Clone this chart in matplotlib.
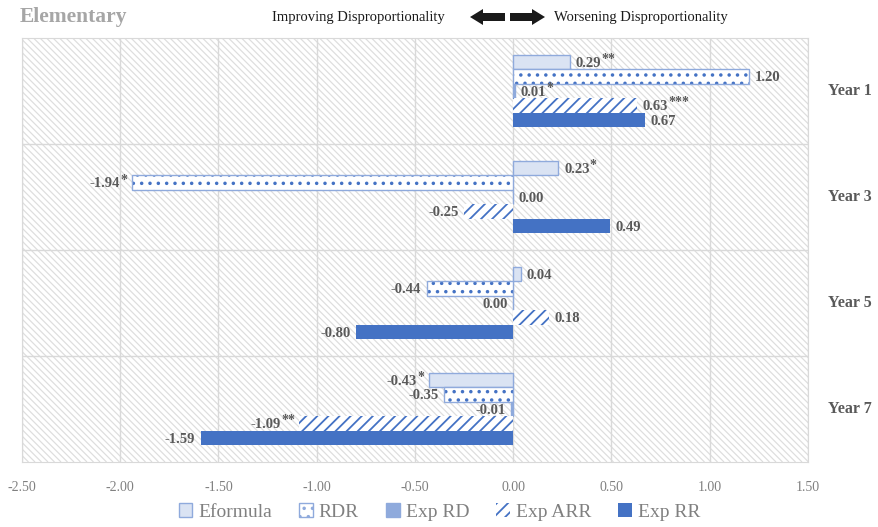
import math
import numpy as np
import matplotlib
matplotlib.use("Agg")
import matplotlib.pyplot as plt
from matplotlib.patches import Polygon, Patch
from matplotlib.collections import LineCollection

plt.rcParams['font.family'] = ['Liberation Serif', 'DejaVu Serif']
plt.rcParams['hatch.linewidth'] = 1.3

# data
years = ["Year 1", "Year 3", "Year 5", "Year 7"]
series = ["Eformula", "RDR", "Exp RD", "Exp ARR", "Exp RR"]
eformula = [0.29, 0.23, 0.04, -0.43]
rdr = [1.20, -1.94, -0.44, -0.35]
exp_rd = [0.01, 0.00, -0.0, -0.01]
exp_arr = [0.63, -0.25, 0.18, -1.09]
exp_rr = [0.67, 0.49, -0.80, -1.59]
stars = [
    ["**", "", "*", "***", ""],
    ["*", "*", "", "", ""],
    ["", "", "", "", ""],
    ["*", "", "", "**", ""],
]
xticks = [-2.5, -2.0, -1.5, -1.0, -0.5, 0.0, 0.5, 1.0, 1.5]

values = [eformula, rdr, exp_rd, exp_arr, exp_rr]

W, H = 879, 527
L, R, T, B = 22, 808, 38, 462
aw, ah = R - L, B - T
fig = plt.figure(figsize=(W / 100, H / 100), dpi=100)
ax = fig.add_axes([L / W, 1 - B / H, aw / W, ah / H])
ax.set_facecolor('white')

# diagonal background stripes, drawn in axes fraction coords
step = 6.5
segs = []
for c in np.arange(-ah, aw + step, step):
    x0, y0 = c, 0.0
    x1, y1 = c + ah, ah
    segs.append([(x0 / aw, 1 - y0 / ah), (x1 / aw, 1 - y1 / ah)])
bgl = LineCollection(segs, colors='#dedede', linewidths=0.9,
                     transform=ax.transAxes, zorder=0)
ax.add_collection(bgl)

for xv in xticks:
    ax.axvline(xv, color='#d9d9d9', lw=1, zorder=1)
for yv in [0.5, 1.5, 2.5]:
    ax.axhline(yv, color='#d9d9d9', lw=1, zorder=1)

h = 0.136
ypos = np.arange(len(years))
blue = '#4472c4'
mid = '#8faadc'
light = '#dae3f3'

for j, vals in enumerate(values):
    y = ypos + (j - 2) * h
    if j == 0:
        ax.barh(y, vals, height=h, color=light, edgecolor=mid, lw=1, zorder=3)
    elif j == 1:
        ax.barh(y, vals, height=h, color='white', edgecolor=blue, lw=0,
                hatch='..', zorder=3)
        ax.barh(y, vals, height=h, color='none', edgecolor=mid, lw=1, zorder=4)
    elif j == 2:
        ax.barh(y, vals, height=h, color=mid, edgecolor=mid, lw=1, zorder=3)
    elif j == 3:
        ax.barh(y, vals, height=h, color='white', edgecolor=blue, lw=0,
                hatch='///', zorder=3)
    else:
        ax.barh(y, vals, height=h, color=blue, edgecolor=blue, lw=0, zorder=3)

    for i, v in enumerate(vals):
        s = stars[i][j]
        neg = math.copysign(1, v) < 0
        txt = f"{abs(v):.2f}"
        if v < 0 and abs(v) >= 0.005:
            txt = "-" + txt
        if neg:
            off = -4 - 4.5 * len(s)
            t = ax.annotate(txt, (v, y[i]), xytext=(off, -1), textcoords='offset points',
                            ha='right', va='center', fontsize=10.5,
                            fontweight='bold', color='#595959', zorder=5)
        else:
            t = ax.annotate(txt, (v, y[i]), xytext=(4, -1), textcoords='offset points',
                            ha='left', va='center', fontsize=10.5,
                            fontweight='bold', color='#595959', zorder=5)
        if s:
            ax.annotate(s, xy=(1, 0.8), xycoords=t, xytext=(0.3, 0),
                        textcoords='offset points', ha='left', va='center',
                        fontsize=10, fontweight='bold', color='#595959', zorder=5)

ax.set_xlim(-2.5, 1.5)
ax.set_ylim(3.5, -0.5)
ax.set_xticks(xticks)
ax.set_xticklabels([f"{t:.2f}" for t in xticks], fontsize=10, color='#808080')
ax.set_yticks([])
ax.tick_params(axis='x', length=0, pad=14)
for sp in ax.spines.values():
    sp.set_color('#d9d9d9')

for i, yr in enumerate(years):
    ax.text(1.0 + 42 / aw, 1 - (i + 0.5) / 4, yr, transform=ax.transAxes,
            ha='center', va='center', fontsize=11.5, fontweight='bold',
            color='#595959')

# header
fig.text(20 / W, 1 - 17 / H, "Elementary", fontsize=15.5, fontweight='bold',
         color='#a6a6a6', ha='left', va='center')
fig.text(445 / W, 1 - 17 / H, "Improving Disproportionality", fontsize=10.5,
         color='#1a1a1a', ha='right', va='center')
fig.text(554 / W, 1 - 17 / H, "Worsening Disproportionality", fontsize=10.5,
         color='#1a1a1a', ha='left', va='center')


def px(points):
    return [(x / 100, (H - y) / 100) for x, y in points]


left_arrow = [(470, 17), (483, 9), (483, 13), (505, 13), (505, 21), (483, 21), (483, 25)]
right_arrow = [(545, 17), (532, 9), (532, 13), (510, 13), (510, 21), (532, 21), (532, 25)]
for poly in [left_arrow, right_arrow]:
    fig.patches.append(Polygon(px(poly), closed=True, facecolor='#1a1a1a',
                               edgecolor='none', transform=fig.dpi_scale_trans))

handles = [
    Patch(facecolor=light, edgecolor=mid, lw=1),
    Patch(facecolor='white', edgecolor=mid, hatch='..', lw=1),
    Patch(facecolor=mid, edgecolor=mid, lw=1),
    Patch(facecolor='white', edgecolor=blue, hatch='///', lw=0),
    Patch(facecolor=blue, edgecolor=blue, lw=0),
]
fig.legend(handles, series, loc='center', bbox_to_anchor=(0.5, 1 - 512 / H),
           ncol=5, frameon=False, fontsize=14, handlelength=0.7,
           handleheight=0.7, handletextpad=0.3, columnspacing=1.4,
           labelcolor='#808080')

fig.savefig("out.png", dpi=100)
